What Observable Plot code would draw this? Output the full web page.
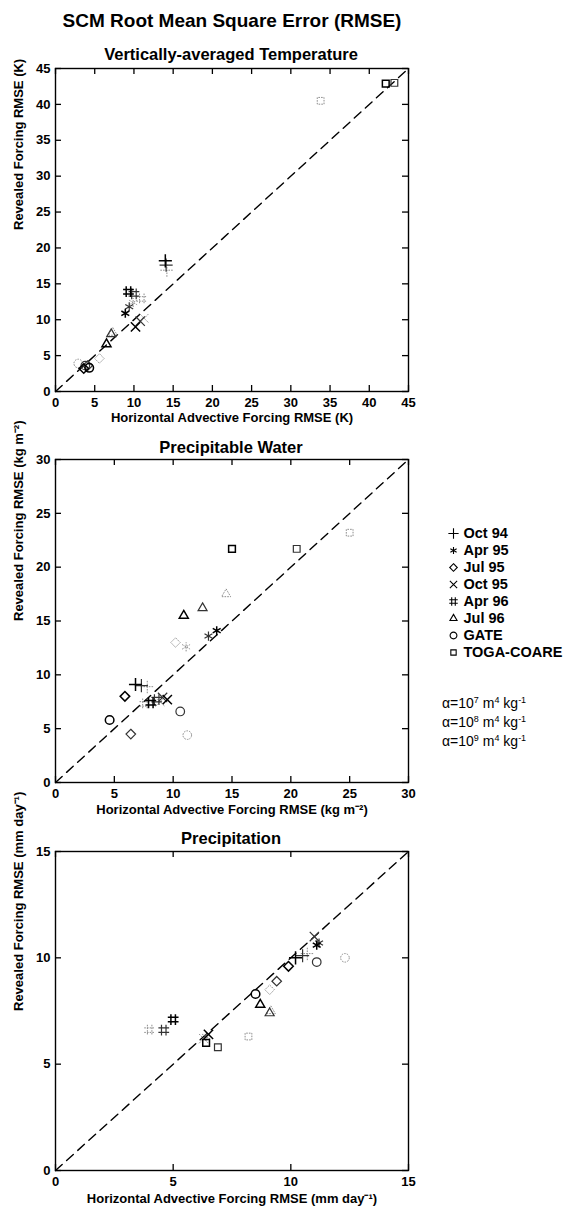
<!DOCTYPE html>
<html>
<head>
<meta charset="utf-8">
<script src="https://cdn.jsdelivr.net/npm/d3@7"></script>
<script src="https://cdn.jsdelivr.net/npm/@observablehq/plot@0.6"></script>
<style>
  html, body { margin: 0; padding: 0; background: #fff; overflow: hidden; }
  #wrap { position: relative; width: 573px; height: 1208px; overflow: hidden; background: #fff; font-family: "Liberation Sans", Arial, Helvetica, sans-serif; color: #000; }
  .abs { position: absolute; }
  .title { position: absolute; z-index: 3; font-weight: bold; white-space: nowrap; transform: translateX(-50%); }
  .alpha { position: absolute; z-index: 3; left: 442px; font-size: 14px; white-space: nowrap; line-height: 14px; }
  .alpha sup { font-size: 9px; vertical-align: 5px; line-height: 0; }
</style>
</head>
<body>
<div id="wrap"></div>
<script>
// ---------- data ----------
const caseNames = ["Oct 94", "Apr 95", "Jul 95", "Oct 95", "Apr 96", "Jul 96", "GATE", "TOGA-COARE"];
const alphaExponents = ["7", "8", "9"];

// [case index, alpha index, horizontal advective forcing RMSE, revealed forcing RMSE]
const tempPoints = [
  [0,0,14.0,18.2],[0,1,14.1,17.6],[0,2,14.2,16.9],
  [1,0,8.9,10.9],[1,1,9.4,11.8],[1,2,9.9,12.4],
  [2,0,3.6,3.2],[2,1,4.1,3.6],[2,2,5.6,4.6],
  [3,0,10.2,9.0],[3,1,10.8,9.8],[3,2,11.3,10.2],
  [4,0,9.3,13.9],[4,1,10.0,13.6],[4,2,11.0,12.9],
  [5,0,6.5,6.6],[5,1,7.1,8.0],[5,2,7.3,8.2],
  [6,0,4.3,3.3],[6,1,3.8,3.6],[6,2,2.9,3.9],
  [7,0,42.1,42.9],[7,1,43.2,43.0],[7,2,33.8,40.5]
];
const pwPoints = [
  [0,0,6.8,9.1],[0,1,7.3,9.0],[0,2,7.8,8.9],
  [1,0,13.7,14.1],[1,1,13.0,13.6],[1,2,11.1,12.6],
  [2,0,5.9,8.0],[2,1,6.4,4.5],[2,2,10.2,13.0],
  [3,0,9.5,7.7],[3,1,9.1,7.9],[3,2,8.9,7.5],
  [4,0,8.1,7.4],[4,1,8.6,7.7],[4,2,7.6,7.3],
  [5,0,10.9,15.5],[5,1,12.5,16.2],[5,2,14.5,17.5],
  [6,0,4.6,5.8],[6,1,10.6,6.6],[6,2,11.2,4.4],
  [7,0,15.0,21.7],[7,1,20.5,21.7],[7,2,25.0,23.2]
];
const precPoints = [
  [0,0,10.2,10.0],[0,1,10.5,10.1],[0,2,10.7,10.2],
  [1,0,11.1,10.6],[1,1,11.2,10.7],[1,2,6.4,6.3],
  [2,0,9.9,9.6],[2,1,9.4,8.9],[2,2,9.1,8.5],
  [3,0,6.5,6.4],[3,1,11.0,11.0],[3,2,6.3,6.2],
  [4,0,5.0,7.1],[4,1,4.6,6.6],[4,2,4.0,6.6],
  [5,0,8.7,7.8],[5,1,9.1,7.4],[5,2,9.15,7.5],
  [6,0,8.5,8.3],[6,1,11.1,9.8],[6,2,12.3,10.0],
  [7,0,6.4,6.0],[7,1,6.9,5.8],[7,2,8.2,6.3]
];

const tempDomain = [0, 45], tempTicks = [0,5,10,15,20,25,30,35,40,45];
const pwDomain = [0, 30], pwTicks = [0,5,10,15,20,25,30];
const precDomain = [0, 15], precTicks = [0,5,10,15];

// ---------- styles ----------
const hashSymbol = {
  draw(context, size) {
    const r = Math.sqrt(size / Math.PI) * 1.25;
    const o = r * 0.42;
    context.moveTo(-o, -r); context.lineTo(-o, r);
    context.moveTo(o, -r); context.lineTo(o, r);
    context.moveTo(-r, -o); context.lineTo(r, -o);
    context.moveTo(-r, o); context.lineTo(r, o);
  }
};
const symbolRange = ["plus", "asterisk", "diamond2", "times", hashSymbol, "triangle2", "circle", "square2"];
const alphaStroke = ["#000", "#333", "#8c8c8c"];
const alphaWidth = [1.5, 1.2, 1.0];
const alphaDash = [null, null, "1.6,1.1"];
const font = "'Liberation Sans', Arial, Helvetica, sans-serif";

const wrap = document.getElementById("wrap");

function addTitle(text, cx, cy, size) {
  const d = document.createElement("div");
  d.className = "title";
  d.style.left = cx + "px";
  d.style.top = (cy - size / 2) + "px";
  d.style.fontSize = size + "px";
  d.style.lineHeight = size + "px";
  d.textContent = text;
  wrap.appendChild(d);
}

function panel({points, domain, ticks, xlabel, ylabel, top, innerH, marginBottom, xlabelDy}) {
  const marginTop = 8, marginLeft = 55, marginRight = 165, width = 573;
  const innerW = width - marginLeft - marginRight;
  const height = marginTop + innerH + marginBottom;
  const diag = [[domain[0], domain[0]], [domain[1], domain[1]]];
  const tickStyle = {stroke: "black", strokeWidth: 1.3};
  const marks = [
    Plot.line(diag, {x: d => d[0], y: d => d[1], stroke: "black", strokeWidth: 1.4, strokeDasharray: "9,6"}),
    Plot.tickX(ticks, {x: d => d, insetTop: innerH - 6, ...tickStyle}),
    Plot.tickX(ticks, {x: d => d, insetBottom: innerH - 6, ...tickStyle}),
    Plot.tickY(ticks, {y: d => d, insetRight: innerW - 6, ...tickStyle}),
    Plot.tickY(ticks, {y: d => d, insetLeft: innerW - 6, ...tickStyle}),
    Plot.axisX(ticks, {tickSize: 0, tickPadding: 6, label: null, fontSize: 13, fontWeight: "bold"}),
    Plot.axisY(ticks, {tickSize: 0, tickPadding: 5, label: null, fontSize: 13, fontWeight: "bold"}),
    Plot.frame({stroke: "black", strokeWidth: 1.4})
  ];
  for (let a = 2; a >= 0; a--) {
    marks.push(Plot.dot(points.filter(p => p[1] === a), {
      x: d => d[2], y: d => d[3],
      symbol: d => caseNames[d[0]],
      r: 4.3, fill: "none",
      stroke: alphaStroke[a], strokeWidth: alphaWidth[a],
      strokeDasharray: alphaDash[a]
    }));
  }
  marks.push(Plot.text([xlabel], {text: d => d, frameAnchor: "bottom", lineAnchor: "middle", dy: xlabelDy, fontSize: 13, fontWeight: "bold"}));
  marks.push(Plot.text([ylabel], {text: d => d, frameAnchor: "left", lineAnchor: "middle", dx: -37, rotate: -90, fontSize: 13, fontWeight: "bold"}));
  const svg = Plot.plot({
    width, height, marginTop, marginBottom, marginLeft, marginRight,
    x: {domain, axis: null},
    y: {domain, axis: null},
    symbol: {domain: caseNames, range: symbolRange},
    style: {fontFamily: font, color: "black", background: "none", overflow: "visible"},
    marks
  });
  svg.classList.add("abs");
  svg.style.left = "0px";
  svg.style.top = top + "px";
  wrap.appendChild(svg);
}

panel({points: tempPoints, domain: tempDomain, ticks: tempTicks,
  xlabel: "Horizontal Advective Forcing RMSE (K)", ylabel: "Revealed Forcing RMSE (K)",
  top: 60, innerH: 323, marginBottom: 44, xlabelDy: 26});

panel({points: pwPoints, domain: pwDomain, ticks: pwTicks,
  xlabel: "Horizontal Advective Forcing RMSE (kg m⁻²)", ylabel: "Revealed Forcing RMSE (kg m⁻²)",
  top: 451, innerH: 323, marginBottom: 44, xlabelDy: 27});

panel({points: precPoints, domain: precDomain, ticks: precTicks,
  xlabel: "Horizontal Advective Forcing RMSE (mm day⁻¹)", ylabel: "Revealed Forcing RMSE (mm day⁻¹)",
  top: 843, innerH: 319, marginBottom: 38, xlabelDy: 28});

addTitle("SCM Root Mean Square Error (RMSE)", 232, 20, 19);
addTitle("Vertically-averaged Temperature", 231, 54, 16.5);
addTitle("Precipitable Water", 231, 447, 16.5);
addTitle("Precipitation", 231, 838, 16.5);

// ---------- legend ----------
const legend = Plot.plot({
  width: 143, height: 165, margin: 0,
  x: {domain: [0, 1], range: [23, 120], axis: null},
  y: {type: "point", domain: caseNames, range: [13, 152], axis: null},
  symbol: {domain: caseNames, range: symbolRange},
  style: {fontFamily: font, color: "black", background: "none", overflow: "visible"},
  marks: [
    Plot.dot(caseNames, {x: () => 0, y: d => d, symbol: d => d, r: 3.4, fill: "none", stroke: "black", strokeWidth: 1.1}),
    Plot.text(caseNames, {x: () => 0, y: d => d, text: d => d, dx: 10, textAnchor: "start", fontSize: 14.5, fontWeight: "bold"})
  ]
});
legend.classList.add("abs");
legend.style.left = "430px";
legend.style.top = "510px";
wrap.appendChild(legend);

const alphaY = [703, 722, 741];
alphaExponents.forEach((exp, i) => {
  const d = document.createElement("div");
  d.className = "alpha";
  d.style.top = (alphaY[i] - 7) + "px";
  d.innerHTML = 'α=10<sup>' + exp + '</sup> m<sup>4</sup> kg<sup>-1</sup>';
  wrap.appendChild(d);
});
</script>
</body>
</html>
